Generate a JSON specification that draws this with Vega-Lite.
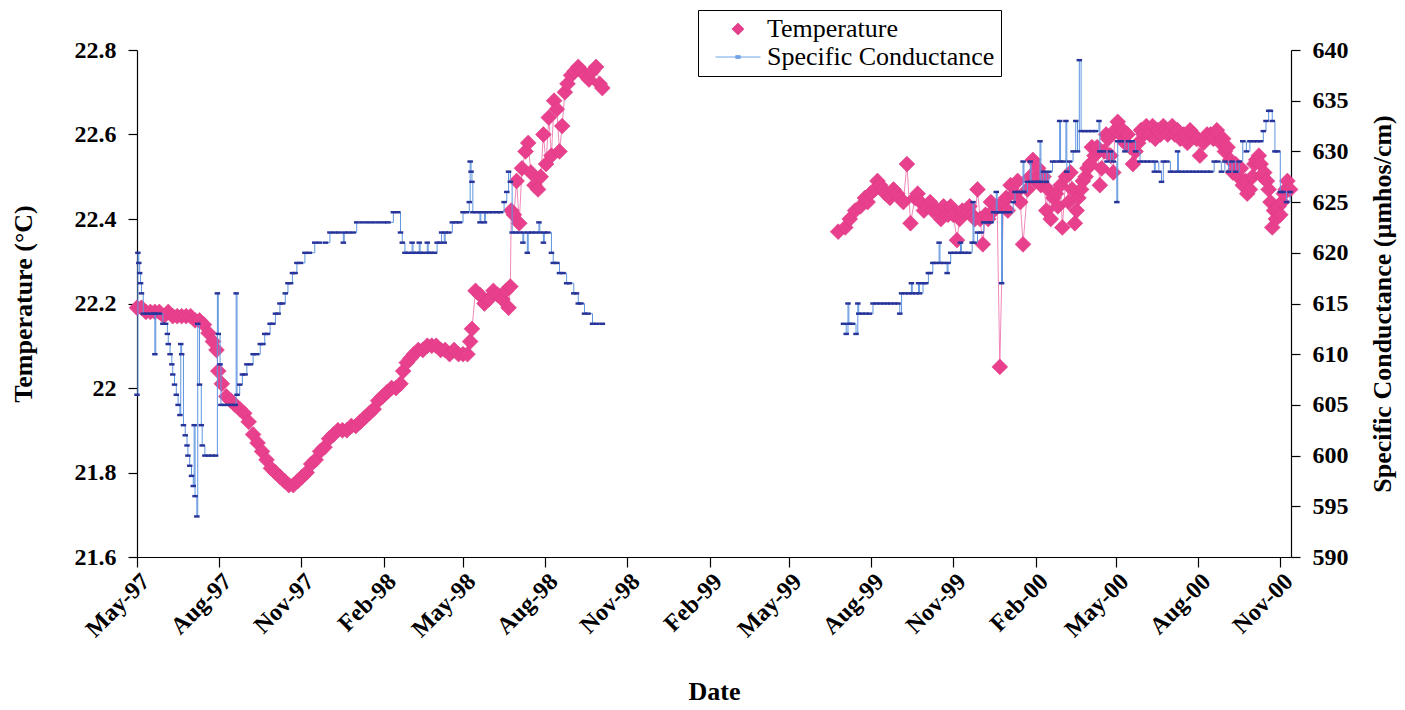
{
"$schema": "https://vega.github.io/schema/vega-lite/v6.json",
"width": 1154, "height": 507,
"autosize": {"type": "none"},
"padding": {"left": 137, "top": 50, "right": 114, "bottom": 153},
"background": "white",
"config": {"view": {"stroke": null}, "font": "Liberation Serif",
 "axis": {"grid": false, "domainColor": "black", "tickColor": "black", "labelColor": "black", "titleColor": "black", "labelFont": "Liberation Serif", "titleFont": "Liberation Serif", "labelFontSize": 24, "labelFontWeight": "bold", "titleFontSize": 26, "titleFontWeight": "bold", "domainWidth": 1.2, "tickWidth": 1.2}},
"datasets": {
"temp": [
{"d":"1997-05-01","t":22.19,"p":1},{"d":"1997-05-06","t":22.19,"p":1},{"d":"1997-05-11","t":22.18,"p":1},{"d":"1997-05-16","t":22.18,"p":1},{"d":"1997-05-21","t":22.18,"p":1},{"d":"1997-05-26","t":22.18,"p":1},{"d":"1997-05-31","t":22.17,"p":1},{"d":"1997-06-05","t":22.18,"p":1},{"d":"1997-06-10","t":22.17,"p":1},{"d":"1997-06-15","t":22.17,"p":1},{"d":"1997-06-20","t":22.17,"p":1},{"d":"1997-06-25","t":22.17,"p":1},{"d":"1997-06-30","t":22.17,"p":1},{"d":"1997-07-05","t":22.16,"p":1},{"d":"1997-07-10","t":22.16,"p":1},{"d":"1997-07-15","t":22.15,"p":1},{"d":"1997-07-20","t":22.13,"p":1},{"d":"1997-07-25","t":22.11,"p":1},{"d":"1997-07-29","t":22.09,"p":1},{"d":"1997-07-31","t":22.04,"p":1},{"d":"1997-08-04","t":22.01,"p":1},{"d":"1997-08-09","t":21.98,"p":1},{"d":"1997-08-14","t":21.97,"p":1},{"d":"1997-08-19","t":21.96,"p":1},{"d":"1997-08-24","t":21.95,"p":1},{"d":"1997-08-29","t":21.94,"p":1},{"d":"1997-09-03","t":21.92,"p":1},{"d":"1997-09-08","t":21.89,"p":1},{"d":"1997-09-13","t":21.87,"p":1},{"d":"1997-09-18","t":21.85,"p":1},{"d":"1997-09-23","t":21.83,"p":1},{"d":"1997-09-28","t":21.81,"p":1},{"d":"1997-10-03","t":21.80,"p":1},{"d":"1997-10-08","t":21.79,"p":1},{"d":"1997-10-13","t":21.78,"p":1},{"d":"1997-10-18","t":21.77,"p":1},{"d":"1997-10-23","t":21.77,"p":1},{"d":"1997-10-28","t":21.78,"p":1},{"d":"1997-11-02","t":21.79,"p":1},{"d":"1997-11-07","t":21.80,"p":1},{"d":"1997-11-12","t":21.82,"p":1},{"d":"1997-11-17","t":21.83,"p":1},{"d":"1997-11-22","t":21.85,"p":1},{"d":"1997-11-27","t":21.86,"p":1},{"d":"1997-12-02","t":21.88,"p":1},{"d":"1997-12-07","t":21.89,"p":1},{"d":"1997-12-12","t":21.90,"p":1},{"d":"1997-12-17","t":21.90,"p":1},{"d":"1997-12-22","t":21.90,"p":1},{"d":"1997-12-27","t":21.91,"p":1},{"d":"1998-01-01","t":21.91,"p":1},{"d":"1998-01-06","t":21.92,"p":1},{"d":"1998-01-11","t":21.93,"p":1},{"d":"1998-01-16","t":21.94,"p":1},{"d":"1998-01-21","t":21.95,"p":1},{"d":"1998-01-26","t":21.97,"p":1},{"d":"1998-01-31","t":21.98,"p":1},{"d":"1998-02-05","t":21.99,"p":1},{"d":"1998-02-10","t":22.00,"p":1},{"d":"1998-02-15","t":22.00,"p":1},{"d":"1998-02-20","t":22.01,"p":1},{"d":"1998-02-23","t":22.04,"p":1},{"d":"1998-02-27","t":22.06,"p":1},{"d":"1998-03-03","t":22.07,"p":1},{"d":"1998-03-07","t":22.08,"p":1},{"d":"1998-03-12","t":22.09,"p":1},{"d":"1998-03-17","t":22.09,"p":1},{"d":"1998-03-22","t":22.10,"p":1},{"d":"1998-03-27","t":22.10,"p":1},{"d":"1998-04-01","t":22.10,"p":1},{"d":"1998-04-06","t":22.09,"p":1},{"d":"1998-04-11","t":22.09,"p":1},{"d":"1998-04-16","t":22.08,"p":1},{"d":"1998-04-21","t":22.09,"p":1},{"d":"1998-04-26","t":22.08,"p":1},{"d":"1998-05-01","t":22.08,"p":1},{"d":"1998-05-06","t":22.08,"p":1},{"d":"1998-05-09","t":22.11,"p":1},{"d":"1998-05-11","t":22.14,"p":1},{"d":"1998-05-15","t":22.23,"p":1},{"d":"1998-05-20","t":22.22,"p":1},{"d":"1998-05-25","t":22.20,"p":1},{"d":"1998-05-30","t":22.21,"p":1},{"d":"1998-06-04","t":22.23,"p":1},{"d":"1998-06-09","t":22.22,"p":1},{"d":"1998-06-14","t":22.21,"p":1},{"d":"1998-06-18","t":22.23,"p":1},{"d":"1998-06-21","t":22.19,"p":1},{"d":"1998-06-23","t":22.24,"p":1},{"d":"1998-06-24","t":22.42,"p":1},{"d":"1998-06-27","t":22.41,"p":1},{"d":"1998-06-30","t":22.49,"p":1},{"d":"1998-07-03","t":22.39,"p":1},{"d":"1998-07-06","t":22.52,"p":1},{"d":"1998-07-10","t":22.56,"p":1},{"d":"1998-07-13","t":22.58,"p":1},{"d":"1998-07-16","t":22.51,"p":1},{"d":"1998-07-20","t":22.48,"p":1},{"d":"1998-07-24","t":22.47,"p":1},{"d":"1998-07-27","t":22.50,"p":1},{"d":"1998-07-30","t":22.60,"p":1},{"d":"1998-08-02","t":22.53,"p":1},{"d":"1998-08-05","t":22.64,"p":1},{"d":"1998-08-08","t":22.55,"p":1},{"d":"1998-08-11","t":22.68,"p":1},{"d":"1998-08-14","t":22.66,"p":1},{"d":"1998-08-17","t":22.56,"p":1},{"d":"1998-08-20","t":22.62,"p":1},{"d":"1998-08-23","t":22.70,"p":1},{"d":"1998-08-26","t":22.72,"p":1},{"d":"1998-08-30","t":22.74,"p":1},{"d":"1998-09-03","t":22.75,"p":1},{"d":"1998-09-07","t":22.76,"p":1},{"d":"1998-09-11","t":22.75,"p":1},{"d":"1998-09-15","t":22.74,"p":1},{"d":"1998-09-19","t":22.73,"p":1},{"d":"1998-09-23","t":22.75,"p":1},{"d":"1998-09-27","t":22.76,"p":1},{"d":"1998-10-01","t":22.72,"p":1},{"d":"1998-10-04","t":22.71,"p":1},
{"d":"1999-06-25","t":22.37,"p":2},{"d":"1999-07-03","t":22.38,"p":2},{"d":"1999-07-08","t":22.40,"p":2},{"d":"1999-07-14","t":22.42,"p":2},{"d":"1999-07-20","t":22.43,"p":2},{"d":"1999-07-25","t":22.45,"p":2},{"d":"1999-07-28","t":22.44,"p":2},{"d":"1999-07-31","t":22.46,"p":2},{"d":"1999-08-05","t":22.47,"p":2},{"d":"1999-08-08","t":22.49,"p":2},{"d":"1999-08-11","t":22.48,"p":2},{"d":"1999-08-14","t":22.47,"p":2},{"d":"1999-08-17","t":22.46,"p":2},{"d":"1999-08-22","t":22.45,"p":2},{"d":"1999-08-26","t":22.47,"p":2},{"d":"1999-08-30","t":22.46,"p":2},{"d":"1999-09-02","t":22.45,"p":2},{"d":"1999-09-06","t":22.44,"p":2},{"d":"1999-09-10","t":22.53,"p":2},{"d":"1999-09-14","t":22.39,"p":2},{"d":"1999-09-19","t":22.45,"p":2},{"d":"1999-09-22","t":22.46,"p":2},{"d":"1999-09-25","t":22.44,"p":2},{"d":"1999-09-29","t":22.42,"p":2},{"d":"1999-10-03","t":22.43,"p":2},{"d":"1999-10-06","t":22.44,"p":2},{"d":"1999-10-09","t":22.42,"p":2},{"d":"1999-10-14","t":22.42,"p":2},{"d":"1999-10-18","t":22.40,"p":2},{"d":"1999-10-21","t":22.43,"p":2},{"d":"1999-10-26","t":22.41,"p":2},{"d":"1999-10-29","t":22.43,"p":2},{"d":"1999-11-01","t":22.41,"p":2},{"d":"1999-11-05","t":22.35,"p":2},{"d":"1999-11-08","t":22.40,"p":2},{"d":"1999-11-11","t":22.42,"p":2},{"d":"1999-11-16","t":22.42,"p":2},{"d":"1999-11-19","t":22.43,"p":2},{"d":"1999-11-22","t":22.41,"p":2},{"d":"1999-11-25","t":22.40,"p":2},{"d":"1999-11-28","t":22.47,"p":2},{"d":"1999-12-01","t":22.40,"p":2},{"d":"1999-12-04","t":22.34,"p":2},{"d":"1999-12-07","t":22.41,"p":2},{"d":"1999-12-10","t":22.40,"p":2},{"d":"1999-12-13","t":22.44,"p":2},{"d":"1999-12-16","t":22.42,"p":2},{"d":"1999-12-20","t":22.43,"p":2},{"d":"1999-12-23","t":22.05,"p":2},{"d":"1999-12-27","t":22.44,"p":2},{"d":"1999-12-30","t":22.45,"p":2},{"d":"2000-01-01","t":22.42,"p":2},{"d":"2000-01-04","t":22.48,"p":2},{"d":"2000-01-09","t":22.46,"p":2},{"d":"2000-01-12","t":22.49,"p":2},{"d":"2000-01-15","t":22.44,"p":2},{"d":"2000-01-18","t":22.34,"p":2},{"d":"2000-01-23","t":22.47,"p":2},{"d":"2000-01-26","t":22.50,"p":2},{"d":"2000-01-29","t":22.54,"p":2},{"d":"2000-02-01","t":22.49,"p":2},{"d":"2000-02-04","t":22.52,"p":2},{"d":"2000-02-07","t":22.48,"p":2},{"d":"2000-02-10","t":22.50,"p":2},{"d":"2000-02-13","t":22.42,"p":2},{"d":"2000-02-15","t":22.47,"p":2},{"d":"2000-02-18","t":22.40,"p":2},{"d":"2000-02-21","t":22.45,"p":2},{"d":"2000-02-24","t":22.46,"p":2},{"d":"2000-02-26","t":22.43,"p":2},{"d":"2000-02-29","t":22.48,"p":2},{"d":"2000-03-02","t":22.38,"p":2},{"d":"2000-03-06","t":22.50,"p":2},{"d":"2000-03-09","t":22.44,"p":2},{"d":"2000-03-11","t":22.51,"p":2},{"d":"2000-03-13","t":22.47,"p":2},{"d":"2000-03-16","t":22.39,"p":2},{"d":"2000-03-18","t":22.42,"p":2},{"d":"2000-03-20","t":22.45,"p":2},{"d":"2000-03-23","t":22.47,"p":2},{"d":"2000-03-25","t":22.49,"p":2},{"d":"2000-03-28","t":22.50,"p":2},{"d":"2000-03-30","t":22.52,"p":2},{"d":"2000-04-02","t":22.53,"p":2},{"d":"2000-04-04","t":22.57,"p":2},{"d":"2000-04-07","t":22.55,"p":2},{"d":"2000-04-10","t":22.57,"p":2},{"d":"2000-04-13","t":22.48,"p":2},{"d":"2000-04-15","t":22.52,"p":2},{"d":"2000-04-18","t":22.56,"p":2},{"d":"2000-04-20","t":22.60,"p":2},{"d":"2000-04-22","t":22.59,"p":2},{"d":"2000-04-25","t":22.55,"p":2},{"d":"2000-04-28","t":22.51,"p":2},{"d":"2000-04-30","t":22.61,"p":2},{"d":"2000-05-03","t":22.63,"p":2},{"d":"2000-05-06","t":22.60,"p":2},{"d":"2000-05-09","t":22.61,"p":2},{"d":"2000-05-11","t":22.58,"p":2},{"d":"2000-05-14","t":22.60,"p":2},{"d":"2000-05-17","t":22.57,"p":2},{"d":"2000-05-20","t":22.53,"p":2},{"d":"2000-05-23","t":22.56,"p":2},{"d":"2000-05-26","t":22.58,"p":2},{"d":"2000-05-29","t":22.61,"p":2},{"d":"2000-06-01","t":22.60,"p":2},{"d":"2000-06-04","t":22.62,"p":2},{"d":"2000-06-08","t":22.60,"p":2},{"d":"2000-06-11","t":22.62,"p":2},{"d":"2000-06-14","t":22.59,"p":2},{"d":"2000-06-17","t":22.61,"p":2},{"d":"2000-06-20","t":22.60,"p":2},{"d":"2000-06-23","t":22.62,"p":2},{"d":"2000-06-25","t":22.61,"p":2},{"d":"2000-06-28","t":22.60,"p":2},{"d":"2000-07-01","t":22.61,"p":2},{"d":"2000-07-03","t":22.62,"p":2},{"d":"2000-07-06","t":22.60,"p":2},{"d":"2000-07-09","t":22.61,"p":2},{"d":"2000-07-12","t":22.59,"p":2},{"d":"2000-07-16","t":22.60,"p":2},{"d":"2000-07-20","t":22.58,"p":2},{"d":"2000-07-23","t":22.61,"p":2},{"d":"2000-07-27","t":22.60,"p":2},{"d":"2000-07-30","t":22.59,"p":2},{"d":"2000-08-03","t":22.55,"p":2},{"d":"2000-08-07","t":22.58,"p":2},{"d":"2000-08-11","t":22.60,"p":2},{"d":"2000-08-15","t":22.60,"p":2},{"d":"2000-08-18","t":22.59,"p":2},{"d":"2000-08-22","t":22.61,"p":2},{"d":"2000-08-26","t":22.58,"p":2},{"d":"2000-08-29","t":22.59,"p":2},{"d":"2000-08-31","t":22.56,"p":2},{"d":"2000-09-03","t":22.57,"p":2},{"d":"2000-09-06","t":22.54,"p":2},{"d":"2000-09-09","t":22.51,"p":2},{"d":"2000-09-12","t":22.53,"p":2},{"d":"2000-09-15","t":22.50,"p":2},{"d":"2000-09-18","t":22.52,"p":2},{"d":"2000-09-20","t":22.48,"p":2},{"d":"2000-09-23","t":22.49,"p":2},{"d":"2000-09-25","t":22.46,"p":2},{"d":"2000-09-28","t":22.47,"p":2},{"d":"2000-10-01","t":22.50,"p":2},{"d":"2000-10-03","t":22.53,"p":2},{"d":"2000-10-05","t":22.54,"p":2},{"d":"2000-10-08","t":22.55,"p":2},{"d":"2000-10-10","t":22.53,"p":2},{"d":"2000-10-12","t":22.50,"p":2},{"d":"2000-10-14","t":22.51,"p":2},{"d":"2000-10-17","t":22.49,"p":2},{"d":"2000-10-19","t":22.47,"p":2},{"d":"2000-10-21","t":22.44,"p":2},{"d":"2000-10-23","t":22.38,"p":2},{"d":"2000-10-25","t":22.42,"p":2},{"d":"2000-10-27","t":22.40,"p":2},{"d":"2000-10-30","t":22.43,"p":2},{"d":"2000-11-01","t":22.41,"p":2},{"d":"2000-11-03","t":22.44,"p":2},{"d":"2000-11-05","t":22.46,"p":2},{"d":"2000-11-07","t":22.47,"p":2},{"d":"2000-11-09","t":22.49,"p":2},{"d":"2000-11-12","t":22.47,"p":2}
],
"cond": [
{"d":"1997-05-01","c":606,"p":1},{"d":"1997-05-02","c":620,"p":1},{"d":"1997-05-03","c":619,"p":1},{"d":"1997-05-04","c":618,"p":1},{"d":"1997-05-05","c":617,"p":1},{"d":"1997-05-06","c":616,"p":1},{"d":"1997-05-08","c":614,"p":1},{"d":"1997-05-12","c":614,"p":1},{"d":"1997-05-16","c":614,"p":1},{"d":"1997-05-20","c":614,"p":1},{"d":"1997-05-21","c":610,"p":1},{"d":"1997-05-22","c":614,"p":1},{"d":"1997-05-26","c":614,"p":1},{"d":"1997-05-30","c":613,"p":1},{"d":"1997-06-02","c":613,"p":1},{"d":"1997-06-04","c":612,"p":1},{"d":"1997-06-05","c":611,"p":1},{"d":"1997-06-07","c":610,"p":1},{"d":"1997-06-09","c":609,"p":1},{"d":"1997-06-10","c":608,"p":1},{"d":"1997-06-12","c":607,"p":1},{"d":"1997-06-14","c":606,"p":1},{"d":"1997-06-16","c":605,"p":1},{"d":"1997-06-18","c":604,"p":1},{"d":"1997-06-19","c":611,"p":1},{"d":"1997-06-20","c":610,"p":1},{"d":"1997-06-22","c":603,"p":1},{"d":"1997-06-24","c":602,"p":1},{"d":"1997-06-26","c":601,"p":1},{"d":"1997-06-27","c":600,"p":1},{"d":"1997-06-29","c":599,"p":1},{"d":"1997-07-01","c":598,"p":1},{"d":"1997-07-03","c":597,"p":1},{"d":"1997-07-04","c":603,"p":1},{"d":"1997-07-05","c":596,"p":1},{"d":"1997-07-07","c":594,"p":1},{"d":"1997-07-08","c":613,"p":1},{"d":"1997-07-10","c":607,"p":1},{"d":"1997-07-12","c":603,"p":1},{"d":"1997-07-13","c":601,"p":1},{"d":"1997-07-16","c":600,"p":1},{"d":"1997-07-20","c":600,"p":1},{"d":"1997-07-24","c":600,"p":1},{"d":"1997-07-28","c":600,"p":1},{"d":"1997-07-30","c":616,"p":1},{"d":"1997-07-31","c":612,"p":1},{"d":"1997-08-02","c":609,"p":1},{"d":"1997-08-03","c":605,"p":1},{"d":"1997-08-07","c":605,"p":1},{"d":"1997-08-11","c":605,"p":1},{"d":"1997-08-15","c":605,"p":1},{"d":"1997-08-19","c":605,"p":1},{"d":"1997-08-20","c":616,"p":1},{"d":"1997-08-21","c":606,"p":1},{"d":"1997-08-24","c":607,"p":1},{"d":"1997-08-27","c":608,"p":1},{"d":"1997-08-30","c":608,"p":1},{"d":"1997-09-01","c":609,"p":1},{"d":"1997-09-05","c":609,"p":1},{"d":"1997-09-08","c":610,"p":1},{"d":"1997-09-12","c":610,"p":1},{"d":"1997-09-16","c":611,"p":1},{"d":"1997-09-19","c":611,"p":1},{"d":"1997-09-21","c":612,"p":1},{"d":"1997-09-24","c":612,"p":1},{"d":"1997-09-27","c":613,"p":1},{"d":"1997-09-30","c":613,"p":1},{"d":"1997-10-03","c":614,"p":1},{"d":"1997-10-06","c":614,"p":1},{"d":"1997-10-08","c":615,"p":1},{"d":"1997-10-11","c":615,"p":1},{"d":"1997-10-14","c":616,"p":1},{"d":"1997-10-17","c":617,"p":1},{"d":"1997-10-20","c":617,"p":1},{"d":"1997-10-22","c":618,"p":1},{"d":"1997-10-25","c":618,"p":1},{"d":"1997-10-27","c":619,"p":1},{"d":"1997-10-31","c":619,"p":1},{"d":"1997-11-05","c":620,"p":1},{"d":"1997-11-10","c":620,"p":1},{"d":"1997-11-16","c":621,"p":1},{"d":"1997-11-21","c":621,"p":1},{"d":"1997-11-28","c":621,"p":1},{"d":"1997-12-03","c":622,"p":1},{"d":"1997-12-08","c":622,"p":1},{"d":"1997-12-13","c":622,"p":1},{"d":"1997-12-18","c":621,"p":1},{"d":"1997-12-19","c":622,"p":1},{"d":"1997-12-24","c":622,"p":1},{"d":"1997-12-29","c":622,"p":1},{"d":"1998-01-02","c":623,"p":1},{"d":"1998-01-08","c":623,"p":1},{"d":"1998-01-14","c":623,"p":1},{"d":"1998-01-20","c":623,"p":1},{"d":"1998-01-26","c":623,"p":1},{"d":"1998-02-01","c":623,"p":1},{"d":"1998-02-06","c":623,"p":1},{"d":"1998-02-12","c":624,"p":1},{"d":"1998-02-17","c":624,"p":1},{"d":"1998-02-20","c":622,"p":1},{"d":"1998-02-22","c":621,"p":1},{"d":"1998-02-25","c":620,"p":1},{"d":"1998-03-01","c":620,"p":1},{"d":"1998-03-05","c":621,"p":1},{"d":"1998-03-06","c":620,"p":1},{"d":"1998-03-10","c":620,"p":1},{"d":"1998-03-13","c":621,"p":1},{"d":"1998-03-14","c":620,"p":1},{"d":"1998-03-18","c":620,"p":1},{"d":"1998-03-22","c":621,"p":1},{"d":"1998-03-23","c":620,"p":1},{"d":"1998-03-26","c":620,"p":1},{"d":"1998-03-30","c":620,"p":1},{"d":"1998-04-02","c":621,"p":1},{"d":"1998-04-05","c":621,"p":1},{"d":"1998-04-07","c":622,"p":1},{"d":"1998-04-10","c":621,"p":1},{"d":"1998-04-11","c":622,"p":1},{"d":"1998-04-15","c":622,"p":1},{"d":"1998-04-19","c":623,"p":1},{"d":"1998-04-23","c":623,"p":1},{"d":"1998-04-27","c":623,"p":1},{"d":"1998-05-01","c":624,"p":1},{"d":"1998-05-05","c":624,"p":1},{"d":"1998-05-08","c":625,"p":1},{"d":"1998-05-09","c":629,"p":1},{"d":"1998-05-10","c":628,"p":1},{"d":"1998-05-11","c":627,"p":1},{"d":"1998-05-12","c":624,"p":1},{"d":"1998-05-16","c":624,"p":1},{"d":"1998-05-20","c":623,"p":1},{"d":"1998-05-21","c":624,"p":1},{"d":"1998-05-25","c":623,"p":1},{"d":"1998-05-26","c":624,"p":1},{"d":"1998-05-30","c":624,"p":1},{"d":"1998-06-03","c":624,"p":1},{"d":"1998-06-08","c":624,"p":1},{"d":"1998-06-12","c":624,"p":1},{"d":"1998-06-16","c":625,"p":1},{"d":"1998-06-19","c":626,"p":1},{"d":"1998-06-21","c":628,"p":1},{"d":"1998-06-23","c":627,"p":1},{"d":"1998-06-25","c":622,"p":1},{"d":"1998-06-29","c":622,"p":1},{"d":"1998-07-03","c":622,"p":1},{"d":"1998-07-07","c":621,"p":1},{"d":"1998-07-08","c":622,"p":1},{"d":"1998-07-12","c":620,"p":1},{"d":"1998-07-13","c":622,"p":1},{"d":"1998-07-17","c":622,"p":1},{"d":"1998-07-21","c":622,"p":1},{"d":"1998-07-25","c":623,"p":1},{"d":"1998-07-26","c":622,"p":1},{"d":"1998-07-30","c":621,"p":1},{"d":"1998-07-31","c":622,"p":1},{"d":"1998-08-04","c":622,"p":1},{"d":"1998-08-08","c":620,"p":1},{"d":"1998-08-10","c":619,"p":1},{"d":"1998-08-14","c":619,"p":1},{"d":"1998-08-17","c":618,"p":1},{"d":"1998-08-21","c":618,"p":1},{"d":"1998-08-25","c":617,"p":1},{"d":"1998-08-28","c":617,"p":1},{"d":"1998-09-02","c":616,"p":1},{"d":"1998-09-05","c":616,"p":1},{"d":"1998-09-07","c":615,"p":1},{"d":"1998-09-10","c":615,"p":1},{"d":"1998-09-14","c":614,"p":1},{"d":"1998-09-18","c":614,"p":1},{"d":"1998-09-23","c":613,"p":1},{"d":"1998-09-28","c":613,"p":1},{"d":"1998-10-04","c":613,"p":1},
{"d":"1999-07-01","c":613,"p":2},{"d":"1999-07-04","c":612,"p":2},{"d":"1999-07-06","c":615,"p":2},{"d":"1999-07-07","c":613,"p":2},{"d":"1999-07-11","c":613,"p":2},{"d":"1999-07-15","c":612,"p":2},{"d":"1999-07-17","c":615,"p":2},{"d":"1999-07-18","c":614,"p":2},{"d":"1999-07-22","c":614,"p":2},{"d":"1999-07-26","c":614,"p":2},{"d":"1999-07-30","c":614,"p":2},{"d":"1999-08-03","c":615,"p":2},{"d":"1999-08-07","c":615,"p":2},{"d":"1999-08-11","c":615,"p":2},{"d":"1999-08-15","c":615,"p":2},{"d":"1999-08-19","c":615,"p":2},{"d":"1999-08-23","c":615,"p":2},{"d":"1999-08-27","c":615,"p":2},{"d":"1999-08-31","c":615,"p":2},{"d":"1999-09-02","c":614,"p":2},{"d":"1999-09-04","c":616,"p":2},{"d":"1999-09-08","c":616,"p":2},{"d":"1999-09-12","c":616,"p":2},{"d":"1999-09-15","c":617,"p":2},{"d":"1999-09-16","c":616,"p":2},{"d":"1999-09-20","c":616,"p":2},{"d":"1999-09-23","c":617,"p":2},{"d":"1999-09-24","c":616,"p":2},{"d":"1999-09-28","c":617,"p":2},{"d":"1999-10-01","c":617,"p":2},{"d":"1999-10-04","c":618,"p":2},{"d":"1999-10-06","c":618,"p":2},{"d":"1999-10-09","c":619,"p":2},{"d":"1999-10-12","c":619,"p":2},{"d":"1999-10-16","c":621,"p":2},{"d":"1999-10-17","c":619,"p":2},{"d":"1999-10-21","c":619,"p":2},{"d":"1999-10-25","c":618,"p":2},{"d":"1999-10-26","c":619,"p":2},{"d":"1999-10-29","c":620,"p":2},{"d":"1999-11-02","c":620,"p":2},{"d":"1999-11-06","c":620,"p":2},{"d":"1999-11-09","c":621,"p":2},{"d":"1999-11-10","c":620,"p":2},{"d":"1999-11-14","c":620,"p":2},{"d":"1999-11-18","c":620,"p":2},{"d":"1999-11-22","c":621,"p":2},{"d":"1999-11-23","c":625,"p":2},{"d":"1999-11-24","c":621,"p":2},{"d":"1999-11-28","c":622,"p":2},{"d":"1999-12-02","c":622,"p":2},{"d":"1999-12-05","c":623,"p":2},{"d":"1999-12-09","c":623,"p":2},{"d":"1999-12-13","c":623,"p":2},{"d":"1999-12-16","c":624,"p":2},{"d":"1999-12-19","c":626,"p":2},{"d":"1999-12-20","c":624,"p":2},{"d":"1999-12-23","c":624,"p":2},{"d":"1999-12-25","c":617,"p":2},{"d":"1999-12-26","c":624,"p":2},{"d":"1999-12-30","c":624,"p":2},{"d":"2000-01-03","c":624,"p":2},{"d":"2000-01-07","c":625,"p":2},{"d":"2000-01-09","c":626,"p":2},{"d":"2000-01-13","c":626,"p":2},{"d":"2000-01-17","c":626,"p":2},{"d":"2000-01-18","c":629,"p":2},{"d":"2000-01-19","c":626,"p":2},{"d":"2000-01-23","c":627,"p":2},{"d":"2000-01-26","c":629,"p":2},{"d":"2000-01-27","c":627,"p":2},{"d":"2000-01-31","c":627,"p":2},{"d":"2000-02-04","c":627,"p":2},{"d":"2000-02-06","c":631,"p":2},{"d":"2000-02-07","c":627,"p":2},{"d":"2000-02-10","c":628,"p":2},{"d":"2000-02-13","c":627,"p":2},{"d":"2000-02-16","c":628,"p":2},{"d":"2000-02-20","c":629,"p":2},{"d":"2000-02-24","c":629,"p":2},{"d":"2000-02-28","c":633,"p":2},{"d":"2000-02-29","c":629,"p":2},{"d":"2000-03-03","c":629,"p":2},{"d":"2000-03-06","c":633,"p":2},{"d":"2000-03-07","c":628,"p":2},{"d":"2000-03-10","c":629,"p":2},{"d":"2000-03-14","c":630,"p":2},{"d":"2000-03-17","c":633,"p":2},{"d":"2000-03-19","c":630,"p":2},{"d":"2000-03-21","c":639,"p":2},{"d":"2000-03-23","c":632,"p":2},{"d":"2000-03-27","c":632,"p":2},{"d":"2000-03-31","c":632,"p":2},{"d":"2000-04-04","c":632,"p":2},{"d":"2000-04-08","c":632,"p":2},{"d":"2000-04-12","c":633,"p":2},{"d":"2000-04-13","c":630,"p":2},{"d":"2000-04-17","c":630,"p":2},{"d":"2000-04-21","c":629,"p":2},{"d":"2000-04-25","c":630,"p":2},{"d":"2000-04-28","c":629,"p":2},{"d":"2000-05-02","c":625,"p":2},{"d":"2000-05-03","c":631,"p":2},{"d":"2000-05-07","c":631,"p":2},{"d":"2000-05-11","c":630,"p":2},{"d":"2000-05-15","c":631,"p":2},{"d":"2000-05-19","c":631,"p":2},{"d":"2000-05-23","c":630,"p":2},{"d":"2000-05-28","c":629,"p":2},{"d":"2000-06-01","c":629,"p":2},{"d":"2000-06-05","c":629,"p":2},{"d":"2000-06-09","c":629,"p":2},{"d":"2000-06-13","c":628,"p":2},{"d":"2000-06-14","c":629,"p":2},{"d":"2000-06-18","c":628,"p":2},{"d":"2000-06-21","c":627,"p":2},{"d":"2000-06-23","c":629,"p":2},{"d":"2000-06-27","c":629,"p":2},{"d":"2000-07-01","c":628,"p":2},{"d":"2000-07-05","c":628,"p":2},{"d":"2000-07-09","c":630,"p":2},{"d":"2000-07-10","c":628,"p":2},{"d":"2000-07-14","c":628,"p":2},{"d":"2000-07-18","c":628,"p":2},{"d":"2000-07-22","c":628,"p":2},{"d":"2000-07-26","c":628,"p":2},{"d":"2000-07-30","c":628,"p":2},{"d":"2000-08-03","c":628,"p":2},{"d":"2000-08-07","c":628,"p":2},{"d":"2000-08-11","c":628,"p":2},{"d":"2000-08-15","c":628,"p":2},{"d":"2000-08-19","c":629,"p":2},{"d":"2000-08-23","c":629,"p":2},{"d":"2000-08-27","c":628,"p":2},{"d":"2000-08-31","c":629,"p":2},{"d":"2000-09-04","c":628,"p":2},{"d":"2000-09-08","c":629,"p":2},{"d":"2000-09-12","c":628,"p":2},{"d":"2000-09-16","c":629,"p":2},{"d":"2000-09-20","c":631,"p":2},{"d":"2000-09-24","c":630,"p":2},{"d":"2000-09-28","c":631,"p":2},{"d":"2000-10-02","c":631,"p":2},{"d":"2000-10-06","c":631,"p":2},{"d":"2000-10-10","c":631,"p":2},{"d":"2000-10-13","c":632,"p":2},{"d":"2000-10-16","c":633,"p":2},{"d":"2000-10-19","c":634,"p":2},{"d":"2000-10-21","c":634,"p":2},{"d":"2000-10-23","c":633,"p":2},{"d":"2000-10-26","c":630,"p":2},{"d":"2000-10-29","c":630,"p":2},{"d":"2000-11-01","c":626,"p":2},{"d":"2000-11-04","c":626,"p":2},{"d":"2000-11-08","c":625,"p":2},{"d":"2000-11-12","c":626,"p":2}
]
},
"encoding": {
 "x": {"field": "d", "type": "temporal",
  "scale": {"type": "utc", "domain": [{"year": 1997, "month": 5, "date": 1, "utc": true}, {"year": 2000, "month": 11, "date": 13, "utc": true}]},
  "axis": {"values": [
    {"year": 1997, "month": 5, "date": 1, "utc": true}, {"year": 1997, "month": 8, "date": 1, "utc": true}, {"year": 1997, "month": 11, "date": 1, "utc": true},
    {"year": 1998, "month": 2, "date": 1, "utc": true}, {"year": 1998, "month": 5, "date": 1, "utc": true}, {"year": 1998, "month": 8, "date": 1, "utc": true}, {"year": 1998, "month": 11, "date": 1, "utc": true},
    {"year": 1999, "month": 2, "date": 1, "utc": true}, {"year": 1999, "month": 5, "date": 1, "utc": true}, {"year": 1999, "month": 8, "date": 1, "utc": true}, {"year": 1999, "month": 11, "date": 1, "utc": true},
    {"year": 2000, "month": 2, "date": 1, "utc": true}, {"year": 2000, "month": 5, "date": 1, "utc": true}, {"year": 2000, "month": 8, "date": 1, "utc": true}, {"year": 2000, "month": 11, "date": 1, "utc": true}],
   "labelExpr": "utcFormat(datum.value, '%b-%y')", "labelAngle": -45, "labelOverlap": false, "tickSize": 10, "labelPadding": 2,
   "title": "Date", "titlePadding": 37}}
},
"layer": [
 {"data": {"name": "temp"},
  "encoding": {"y": {"field": "t", "type": "quantitative",
    "scale": {"domain": [21.6, 22.8], "zero": false, "nice": false},
    "axis": {"orient": "left", "values": [21.6, 21.8, 22, 22.2, 22.4, 22.6, 22.8], "format": ".1~f", "tickSize": 9, "labelPadding": 12, "title": "Temperature (°C)", "titlePadding": 38}}},
  "layer": [
   {"mark": {"type": "line", "color": "#EE6AA7", "strokeWidth": 0.8}, "encoding": {"detail": {"field": "p", "type": "nominal"}}},
   {"mark": {"type": "point", "filled": true, "size": 250, "strokeWidth": 0.6, "opacity": 1},
    "encoding": {
     "color": {"datum": "Temperature", "type": "nominal",
      "scale": {"domain": ["Temperature", "Specific Conductance"], "range": ["#E8408D", "#27349A"]},
      "legend": {"orient": "none", "legendX": 561, "legendY": -40, "title": null, "direction": "vertical",
        "strokeColor": "black", "fillColor": "white", "padding": 6,
        "labelFont": "Liberation Serif", "labelFontSize": 26, "labelColor": "black", "labelLimit": 400,
        "symbolSize": 120, "symbolStrokeWidth": 1.2, "symbolOffset": 21, "labelOffset": 16, "rowPadding": 2}},
     "shape": {"datum": "Temperature", "type": "nominal",
      "scale": {"domain": ["Temperature", "Specific Conductance"], "range": ["diamond", "M-4.1,0L4.1,0M-0.38,-0.22L0.38,-0.22L0.38,0.22L-0.38,0.22Z"]},
      "legend": {"orient": "none", "legendX": 561, "legendY": -40, "title": null, "direction": "vertical",
        "strokeColor": "black", "fillColor": "white", "padding": 6,
        "labelFont": "Liberation Serif", "labelFontSize": 26, "labelColor": "black", "labelLimit": 400,
        "symbolSize": 120, "symbolStrokeWidth": 1.2, "symbolOffset": 21, "labelOffset": 16, "rowPadding": 2}},
     "stroke": {"datum": "Temperature", "type": "nominal",
      "scale": {"domain": ["Temperature", "Specific Conductance"], "range": ["#DC3A85", "#6FA3E8"]},
      "legend": {"orient": "none", "legendX": 561, "legendY": -40, "title": null, "direction": "vertical",
        "strokeColor": "black", "fillColor": "white", "padding": 6,
        "labelFont": "Liberation Serif", "labelFontSize": 26, "labelColor": "black", "labelLimit": 400,
        "symbolSize": 120, "symbolStrokeWidth": 1.2, "symbolOffset": 21, "labelOffset": 16, "rowPadding": 2}}}}
  ]},
 {"data": {"name": "cond"},
  "encoding": {"y": {"field": "c", "type": "quantitative",
    "scale": {"domain": [590, 640], "zero": false, "nice": false},
    "axis": {"orient": "right", "values": [590, 595, 600, 605, 610, 615, 620, 625, 630, 635, 640], "format": "d", "tickSize": 9, "labelPadding": 12, "title": "Specific Conductance (µmhos/cm)", "titleAngle": 270, "titlePadding": 47}}},
  "layer": [
   {"mark": {"type": "line", "color": "#5E95E0", "strokeWidth": 1, "interpolate": "step-after"}, "encoding": {"detail": {"field": "p", "type": "nominal"}}},
   {"mark": {"type": "point", "shape": "M-1,-0.45L1,-0.45L1,0.45L-1,0.45Z", "filled": true, "size": 30, "opacity": 1},
    "encoding": {"color": {"datum": "Specific Conductance", "type": "nominal"}}}
  ]}
],
"resolve": {"scale": {"y": "independent"}}
}
